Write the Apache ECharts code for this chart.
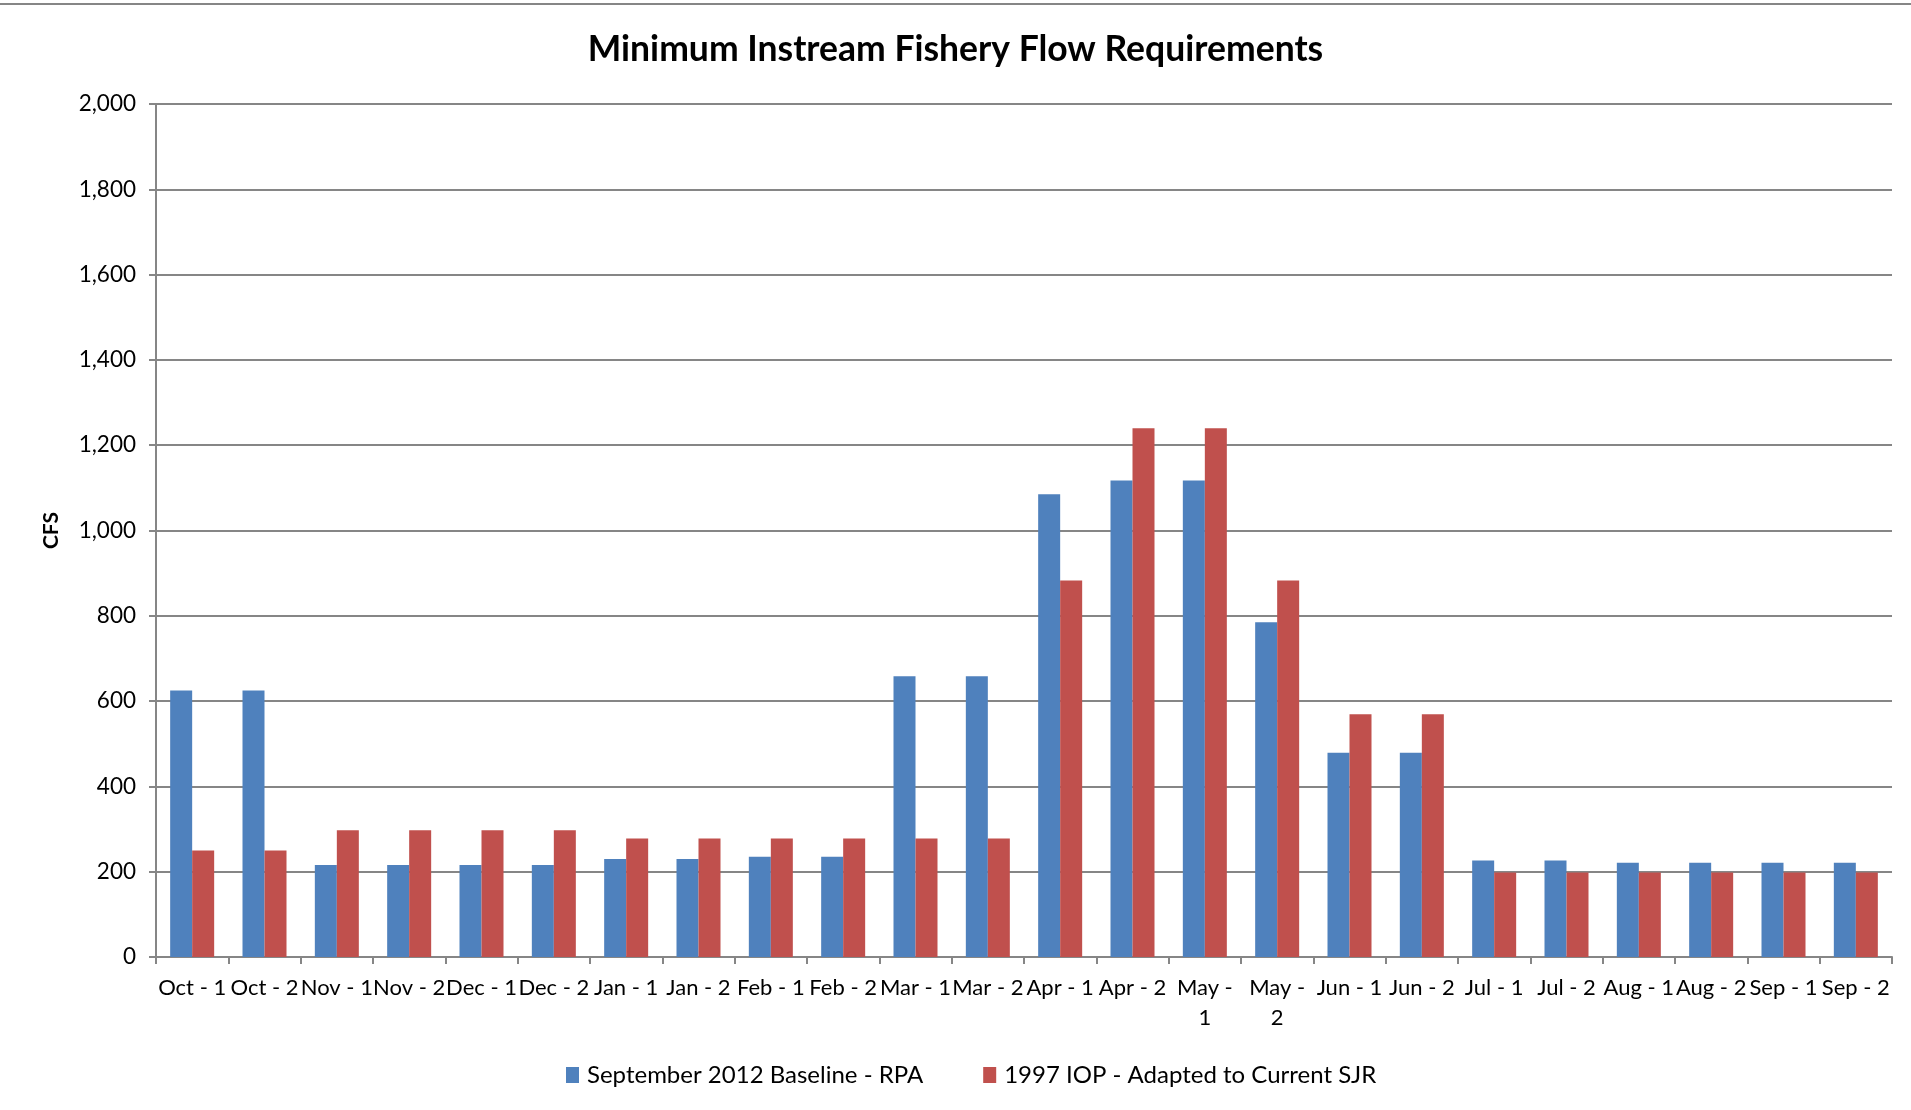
<!DOCTYPE html>
<html><head><meta charset="utf-8">
<script src="https://cdn.jsdelivr.net/npm/echarts@6/dist/echarts.min.js"></script>
<style>html,body{margin:0;padding:0;background:#fff}#c{width:1911px;height:1110px}</style>
</head><body><div id="c"></div>
<script>
const categories = ["Oct - 1","Oct - 2","Nov - 1","Nov - 2","Dec - 1","Dec - 2","Jan - 1","Jan - 2","Feb - 1","Feb - 2","Mar - 1","Mar - 2","Apr - 1","Apr - 2","May - 1","May - 2","Jun - 1","Jun - 2","Jul - 1","Jul - 2","Aug - 1","Aug - 2","Sep - 1","Sep - 2"];
const baselineRPA = [625,625,216,216,216,216,230,230,235,235,658,658,1085,1117,1117,785,479,479,226,226,221,221,221,221];
const iop1997 = [250,250,297,297,297,297,278,278,278,278,278,278,883,1240,1240,883,569,569,198,198,198,198,198,198];
const seriesNames = ["September 2012 Baseline - RPA","1997 IOP - Adapted to Current SJR"];
const yTicks = {min:0, max:2000, interval:200};

const font = "Lato, 'Open Sans', sans-serif";
const chart = echarts.init(document.getElementById('c'));
chart.setOption({
  animation:false,
  backgroundColor:'#fff',
  textStyle:{fontFamily:font},
  title:{text:'Minimum Instream Fishery Flow Requirements',left:'center',top:27,
    textStyle:{fontFamily:font,fontSize:35.5,fontWeight:'bold',color:'#000'}},
  graphic:[{type:'line',shape:{x1:0,y1:4,x2:1911,y2:4},style:{stroke:'#868686',lineWidth:2}}],
  legend:{bottom:18,left:561,itemWidth:13,itemHeight:16,itemGap:60,icon:'rect',
    textStyle:{fontFamily:font,fontSize:24,color:'#000',padding:[0,0,0,3]},data:seriesNames},
  grid:{left:156,right:19,top:104,bottom:153,containLabel:false},
  xAxis:{type:'category',data:categories,
    axisLine:{lineStyle:{color:'#868686',width:2}},
    axisTick:{show:true,length:7,lineStyle:{color:'#868686',width:2}},
    axisLabel:{interval:0,color:'#000',fontSize:22,margin:16,lineHeight:30,fontFamily:font,
      formatter:v=>v.startsWith('May')?v.replace(' - ',' -\n'):v}},
  yAxis:{type:'value',min:yTicks.min,max:yTicks.max,interval:yTicks.interval,
    name:'CFS',nameLocation:'middle',nameGap:94,nameRotate:90,
    nameTextStyle:{fontFamily:font,fontSize:21,fontWeight:'bold',color:'#000'},
    axisLine:{show:true,lineStyle:{color:'#868686',width:2}},
    axisTick:{show:true,length:7,lineStyle:{color:'#868686',width:2}},
    splitLine:{lineStyle:{color:'#868686',width:2}},
    axisLabel:{color:'#000',fontSize:22.5,margin:20,fontFamily:font,
      formatter:v=>v.toLocaleString('en-US')}},
  series:[
    {name:seriesNames[0],type:'bar',data:baselineRPA,barWidth:22,barGap:'0%',itemStyle:{color:'#4F81BD'}},
    {name:seriesNames[1],type:'bar',data:iop1997,barWidth:22,barGap:'0%',itemStyle:{color:'#C0504D'}}
  ]
});
</script></body></html>
